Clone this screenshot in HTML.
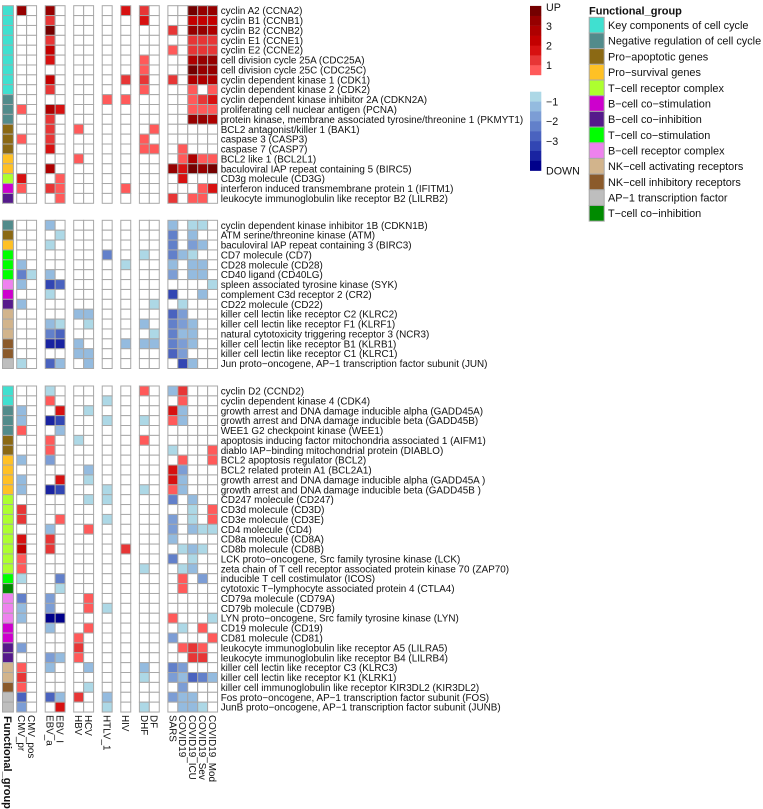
<!DOCTYPE html>
<html>
<head>
<meta charset="utf-8">
<title>Functional group heatmap</title>
<style>
html,body{margin:0;padding:0;background:#fff;}
svg{display:block;}
text{font-family:"Liberation Sans",sans-serif;fill:#111;}
</style>
</head>
<body>
<svg id="chart" xmlns="http://www.w3.org/2000/svg" width="763" height="809" viewBox="0 0 763 809"></svg>
<script>
const columns = ["CMV_pr","CMV_pos","EBV_a","EBV_I","HBV","HCV","HTLV_1","HIV","DHF","DF","SARS","COVID19","COVID19_ICU","COVID19_Sev","COVID19_Mod"];
const columnGaps = [0,0,1,1,2,2,3,4,5,5,6,6,6,6,6];

const groupNames = ["Key components of cell cycle","Negative regulation of cell cycle","Pro\u2212apoptotic genes","Pro\u2212survival genes","T\u2212cell receptor complex","B\u2212cell co\u2212stimulation","B\u2212cell co\u2212inhibition","T\u2212cell co\u2212stimulation","B\u2212cell receptor complex","NK\u2212cell activating receptors","NK\u2212cell inhibitory receptors","AP\u22121 transcription factor","T\u2212cell co\u2212inhibition"];
const groupColors = ["#40E0D0","#528B8B","#8B6914","#FFC125","#ADFF2F","#CD00CD","#551A8B","#00FF00","#EE82EE","#D2B48C","#8B5A2B","#BEBEBE","#008B00"];

const redBands = ["#FF5A5A","#E73636","#D71111","#C30000","#AE0000","#960000","#740000"];
const blueBands = ["#ADD8E6","#94BBDF","#7C9DD5","#6280CA","#4A63BF","#3246B3","#1923A1","#00008B"];
const upTicks = ["1","2","3","UP"];
const downTicks = ["\u22121","\u22122","\u22123","DOWN"];

const labelsTop = ["cyclin A2 (CCNA2)","cyclin B1 (CCNB1)","cyclin B2 (CCNB2)","cyclin E1 (CCNE1)","cyclin E2 (CCNE2)","cell division cycle 25A (CDC25A)","cell division cycle 25C (CDC25C)","cyclin dependent kinase 1 (CDK1)","cyclin dependent kinase 2 (CDK2)","cyclin dependent kinase inhibitor 2A (CDKN2A)","proliferating cell nuclear antigen (PCNA)","protein kinase, membrane associated tyrosine/threonine 1 (PKMYT1)","BCL2 antagonist/killer 1 (BAK1)","caspase 3 (CASP3)","caspase 7 (CASP7)","BCL2 like 1 (BCL2L1)","baculoviral IAP repeat containing 5 (BIRC5)","CD3g molecule (CD3G)","interferon induced transmembrane protein 1 (IFITM1)","leukocyte immunoglobulin like receptor B2 (LILRB2)"];
const groupsTop = [0,0,0,0,0,0,0,0,0,1,1,1,2,2,2,3,3,4,5,6];
const valuesTop = [
[3.25,0,3.25,0,0,0,0,1.75,1.25,0,0,0,3.75,3.25,3.25],
[0,0,1.25,0,0,0,0,0,1.75,0,0,0,2.25,2.25,2.25],
[0,0,3.75,0,0,0,0,0,0,0,1.25,0,3.25,3.25,2.75],
[0,0,1.25,0,0,0,0,0,0,0,0,0,1.25,1.25,1.25],
[0,0,2.25,0,0,0,0,0,0,0,0.75,0,1.25,1.25,1.25],
[0,0,1.75,0,0,0,0,0,0.75,0,0,0,2.75,3.25,3.25],
[0,0,0,0,0,0,0,0,0.75,0,0,0,3.75,3.25,3.25],
[0,0,2.25,0,0,0,0,1.25,1.25,0,1.25,0,2.75,2.75,2.75],
[0,0,1.25,0,0,0,0,0,0.75,0,0,0,0.75,0,0.75],
[0,0,0,0,0,0,0.75,0.75,0,0,0,0,0.75,1.25,1.75],
[0.75,0,2.75,1.75,0,0,0,0,0,0,0,0,0.75,0.75,0.75],
[0,0,1.25,0,0,0,0,0,0,0,0,0,3.25,3.25,2.75],
[0,0,1.25,0,0.75,0,0,0,0,0.75,0,0,0,0,0],
[0.75,0,1.25,0,0,0,0,0,0.75,0,0,0,0,0,0],
[0,0,1.75,0,0,0,0,0,0.75,0.75,0,0.75,0,0,0],
[0,0,0,0,0.75,0,0,0,0,0,0,0.75,2.75,0.75,0.75],
[0,0,2.75,0,0,0,0,0,0,0,3.25,1.75,3.75,3.25,3.75],
[1.75,0,0,0.75,0,0,0,0,0,0,0,1.75,0,0,0],
[0.75,0,1.25,0.75,0,0,0,0.75,0,0,0,0,0,0.75,1.75],
[0,0,0,0.75,0,0,0,0,0,0,1.25,0,0.75,0.75,0]
];

const labelsMiddle = ["cyclin dependent kinase inhibitor 1B (CDKN1B)","ATM serine/threonine kinase (ATM)","baculoviral IAP repeat containing 3 (BIRC3)","CD7 molecule (CD7)","CD28 molecule (CD28)","CD40 ligand (CD40LG)","spleen associated tyrosine kinase (SYK)","complement C3d receptor 2 (CR2)","CD22 molecule (CD22)","killer cell lectin like receptor C2 (KLRC2)","killer cell lectin like receptor F1 (KLRF1)","natural cytotoxicity triggering receptor 3 (NCR3)","killer cell lectin like receptor B1 (KLRB1)","killer cell lectin like receptor C1 (KLRC1)","Jun proto\u2212oncogene, AP\u22121 transcription factor subunit (JUN)"];
const groupsMiddle = [1,2,3,7,7,7,8,5,6,9,9,9,10,10,11];
const valuesMiddle = [
[0,0,-1.25,0,0,0,0,0,0,0,-1.25,0,-0.75,-0.75,0],
[0,0,0,-0.75,0,0,0,0,0,0,-2.25,0,-1.25,0,0],
[0,0,-0.75,0,0,0,0,0,0,0,-2.25,0,-1.75,-1.25,0],
[0,0,0,0,0,0,-2.25,0,-0.75,0,-2.25,-1.25,-0.75,0,0],
[-1.25,0,0,0,0,0,0,-0.75,0,0,-1.25,0,-1.25,-1.25,0],
[-2.25,-0.75,-1.25,0,0,0,0,0,0,0,-1.75,0,-1.25,-1.25,0],
[-1.25,0,-3.25,-2.75,0,0,0,0,0,0,0,0,0,0,-0.75],
[0,0,-0.75,0,0,0,0,0,0,0,-3.25,0,0,-1.25,0],
[-1.25,0,0,0,0,0,0,0,0,-0.75,0,-0.75,0,0,0],
[0,0,0,0,-1.25,-1.25,0,0,0,0,-2.75,-1.75,0,0,0],
[0,0,-1.25,-0.75,0,-0.75,0,0,-1.25,0,-2.25,-1.75,-1.25,0,0],
[0,0,-2.25,-2.75,0,0,0,0,0,-0.75,-2.25,-1.25,-1.25,0,0],
[0,0,-3.75,-3.75,-1.25,0,0,-1.25,-1.25,-1.25,-2.25,-1.75,-1.25,0,0],
[0,0,0,0,-1.25,-1.25,0,0,0,0,-2.75,-1.75,0,0,0],
[-0.75,0,-2.75,-1.25,0,-1.25,0,0,0,0,0,-3.25,-1.25,0,0]
];

const labelsBottom = ["cyclin D2 (CCND2)","cyclin dependent kinase 4 (CDK4)","growth arrest and DNA damage inducible alpha (GADD45A)","growth arrest and DNA damage inducible beta (GADD45B)","WEE1 G2 checkpoint kinase (WEE1)","apoptosis inducing factor mitochondria associated 1 (AIFM1)","diablo IAP\u2212binding mitochondrial protein (DIABLO)","BCL2 apoptosis regulator (BCL2)","BCL2 related protein A1 (BCL2A1)","growth arrest and DNA damage inducible alpha (GADD45A )","growth arrest and DNA damage inducible beta (GADD45B )","CD247 molecule (CD247)","CD3d molecule (CD3D)","CD3e molecule (CD3E)","CD4 molecule (CD4)","CD8a molecule (CD8A)","CD8b molecule (CD8B)","LCK proto\u2212oncogene, Src family tyrosine kinase (LCK)","zeta chain of T cell receptor associated protein kinase 70 (ZAP70)","inducible T cell costimulator (ICOS)","cytotoxic T\u2212lymphocyte associated protein 4 (CTLA4)","CD79a molecule (CD79A)","CD79b molecule (CD79B)","LYN proto\u2212oncogene, Src family tyrosine kinase (LYN)","CD19 molecule (CD19)","CD81 molecule (CD81)","leukocyte immunoglobulin like receptor A5 (LILRA5)","leukocyte immunoglobulin like receptor B4 (LILRB4)","killer cell lectin like receptor C3 (KLRC3)","killer cell lectin like receptor K1 (KLRK1)","killer cell immunoglobulin like receptor KIR3DL2 (KIR3DL2)","Fos proto\u2212oncogene, AP\u22121 transcription factor subunit (FOS)","JunB proto\u2212oncogene, AP\u22121 transcription factor subunit (JUNB)"];
const groupsBottom = [0,0,1,1,1,2,2,3,3,3,3,4,4,4,4,4,4,4,4,7,12,8,8,8,5,5,6,6,9,9,10,11,11];
const valuesBottom = [
[0,0,-0.75,0,0,0,0,0,0.75,0,-1.25,1.25,0,0,0],
[0,0,0.75,0,0,0,-0.75,0,0,0,0,0.75,0,0,0],
[-1.25,0,0,1.75,0,-0.75,0,0,0,0,1.75,-1.25,0,0,0],
[-1.25,0,-3.75,-3.25,0,0,-0.75,0,-0.75,0,0.75,-1.25,0,0,0],
[0.75,0,0,-1.25,0,0,0,0,0,0,0,0,0,0,0],
[0,0,0.75,0,-0.75,0,0,0,0.75,0,0,0,0,0,0],
[0,0,0.75,0,0,0,0,0,0,0,-0.75,0,0,0,0.75],
[-1.25,0,-1.75,0,0,0,0,0,0,0,0,0.75,0,0,0.75],
[0,0,0,0,0,-1.25,0,0,0,0,1.75,-1.75,0,0,0],
[-1.25,0,0,1.75,0,-0.75,0,0,0,0,1.75,-1.25,0,0,0],
[-1.25,0,-3.75,-3.25,0,0,-0.75,0,-0.75,0,0.75,-1.25,0,0,0],
[0,0,0,0,0,-0.75,-0.75,0,0,0,-2.25,0,-1.25,0,0],
[1.25,0,0,0,0,0,0,0,0,0,0,0,-0.75,0,0.75],
[1.25,0,0,0.75,0,0,-0.75,0,0,0,-1.75,0,-0.75,0,0.75],
[0,0,-1.25,0,0,0.75,0,0,0,0,-1.75,0,-1.25,-0.75,-0.75],
[1.75,0,1.25,0,0,0,0,0,0,0,-1.25,0,0,0,0],
[2.25,0,1.25,0,0,0,0,1.25,0,0,0,-0.75,-1.25,-0.75,0],
[0.75,0,0,0,0,0,0,0,0,0,-2.25,0,-0.75,0,0],
[0.75,0,0,0,0,0,0,0,-0.75,0,0,-0.75,-1.25,0,0],
[-0.75,0,0,-2.25,0,0,0,0,0,0,0,0.75,0,-1.75,0],
[0,0,0,-0.75,0,0,0,0,0,0,0,0.75,0,0,0],
[-2.25,0,-1.75,0,0,0.75,0,0,0,0,0,0,0,0,0],
[-1.25,0,-1.75,0,0,0.75,-0.75,0,0,0,0,0,0,0,0],
[-1.25,0,-4.25,-4.25,0,0,0,0,0,0,0.75,0,0,0,-0.75],
[0,0,-1.25,0,0,0.75,0,0,0,0,0,-0.75,0,0.75,0],
[0,0,0,0,0.75,0,0,0,0,0,-1.75,0,0,0,0.75],
[-1.75,0,0,0,1.25,0,0,0,0,0,0,0.75,1.25,0.75,0],
[0,0,-1.75,-1.25,0.75,0,0,0,0,0,0,0,1.25,1.25,0],
[0.75,0,-1.25,0,0,-1.25,0,0,-1.25,0,-2.25,-1.75,0,0,0],
[1.25,0,0,0,0,0,0,0,-0.75,0,-1.75,-1.25,-2.75,-2.25,-1.25],
[0.75,0,0,0,0,-0.75,0,0,0,0,0,-1.75,0,0,0],
[-2.75,0,-2.75,-1.25,1.25,0,-1.25,0,0,0,-1.75,-1.25,-1.25,0,0],
[-1.75,0,0,1.75,0,0,-0.75,0,-0.75,0,0,-1.25,-1.25,-0.75,0]
];

const svg = document.getElementById('chart');
const NS = 'http://www.w3.org/2000/svg';
const cellW = 9.93, cellH = 9.88, gapW = 8.65, left = 16.7;
const stroke = '#A8A8A8';
const rowFont = 9.9, legendFont = 10.9, tickFont = 10.7;

function xCol(c){ return left + c * cellW + columnGaps[c] * gapW; }
function yRow(top, r){ return top + r * cellH; }
function fillFor(v){
  if (v >= 0.5) return redBands[Math.min(redBands.length - 1, Math.floor((v - 0.5) / 0.5))];
  if (v <= -0.5) return blueBands[Math.min(blueBands.length - 1, Math.floor((-v - 0.5) / 0.5))];
  return '#FFFFFF';
}
function slug(s){ return s.toLowerCase().replace(/[^a-z0-9]+/g, '-').replace(/^-|-$/g, ''); }
function addRect(x, y, w, h, fill, line){
  const r = document.createElementNS(NS, 'rect');
  r.setAttribute('x', x);
  r.setAttribute('y', y);
  r.setAttribute('width', w);
  r.setAttribute('height', h);
  r.setAttribute('fill', fill);
  if (line) {
    r.setAttribute('stroke', line);
    r.setAttribute('stroke-width', '1');
  }
  svg.appendChild(r);
  return r;
}
function addText(x, y, str, size, weight, rotate){
  const t = document.createElementNS(NS, 'text');
  t.setAttribute('x', x);
  t.setAttribute('y', y);
  t.setAttribute('font-size', size);
  if (weight) t.setAttribute('font-weight', weight);
  t.setAttribute('dy', '0.36em');
  if (rotate) t.setAttribute('transform', 'rotate(90 ' + x + ' ' + y + ')');
  t.textContent = str;
  svg.appendChild(t);
  return t;
}
function drawPanel(top, labels, groups, values){
  labels.forEach(function(label, r){
    const y = yRow(top, r);
    const anno = addRect(2.5, y, 10.9, cellH, groupColors[groups[r]], stroke);
    
    
    values[r].forEach(function(v, c){
      const cell = addRect(xCol(c), y, cellW, cellH, fillFor(v), stroke);
      
      
    });
    const t = addText(220.7, y + cellH / 2, label, rowFont);
    
    
  });
}
drawPanel(5.7, labelsTop, groupsTop, valuesTop);
drawPanel(220.3, labelsMiddle, groupsMiddle, valuesMiddle);
drawPanel(386, labelsBottom, groupsBottom, valuesBottom);

columns.forEach(function(name, c){
  const t = addText(xCol(c) + cellW / 2, 715, name, rowFont, null, true);
  
  
});
const annoTitle = addText(8, 716, 'Functional_group', 11, 'bold', true);



/* colour legend */
const legendX = 530, legendW = 11.3, bandH = 9.87;
redBands.forEach(function(col, i){
  const b = addRect(legendX, 75 - (i + 1) * bandH, legendW, bandH + 0.2, col);
  
  
});
blueBands.forEach(function(col, i){
  const b = addRect(legendX, 91.7 + i * bandH, legendW, bandH + 0.2, col);
  
  
});
upTicks.forEach(function(label, i){
  const y = label === 'UP' ? 7 : 65.3 - i * 19.6;
  const t = addText(546, y, label, tickFont);
  
  
});
downTicks.forEach(function(label, i){
  const y = label === 'DOWN' ? 170.5 : 101.7 + i * 19.6;
  const t = addText(546, y, label, tickFont);
  
  
});

/* functional group legend */
const legendTitle = addText(589, 10.3, 'Functional_group', 11, 'bold');


groupNames.forEach(function(name, i){
  const y = 17.3 + i * 15.68;
  const s = addRect(589.2, y, 15, 15.68, groupColors[i], stroke);
  
  
  const t = addText(608, y + 7.84, name, legendFont);
  
  
});
</script>
</body>
</html>
